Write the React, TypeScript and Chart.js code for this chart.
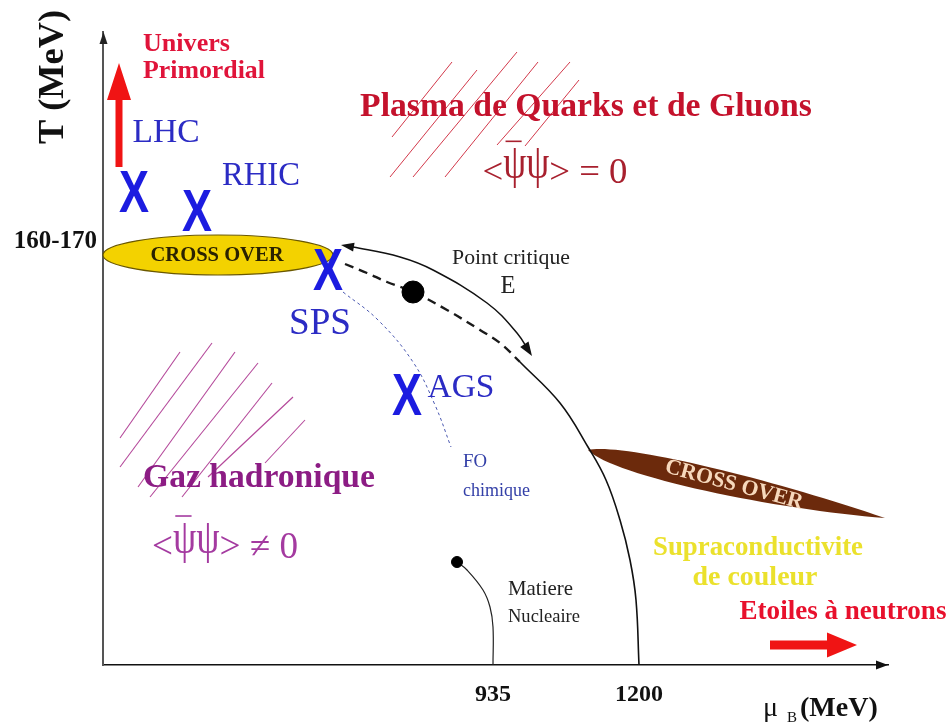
import React, { useEffect, useRef } from 'react';
import { Chart, registerables } from 'chart.js';

Chart.register(...registerables);

const SERIF = "'Liberation Serif', 'Times New Roman', 'DejaVu Serif', serif";
const SANS = "'Liberation Sans', Arial, 'DejaVu Sans', sans-serif";

// Schematic axis extents
const X_MAX = 785;
const Y_MAX = 633;

// Tick marks
const xTickValues = [390, 536];
const xTickLabels = ['935', '1200'];
const yTickValues = [423];
const yTickLabels = ['160-170'];

// Experiments
const expNames = ['LHC', 'RHIC', 'SPS', 'AGS'];
const expX = [31, 94, 225, 304];
const expY = [471, 452, 393, 268];

// Critical point E and nuclear matter point
const criticalX = [310];
const criticalY = [373];
const nuclearX = [354];
const nuclearY = [103];

// Crossover (dashed) line through the critical point
const crossX = [242, 264, 284, 310, 344, 377, 397, 417];
const crossY = [401, 392, 383, 373, 355, 335, 322, 303];

// First order transition line
const firstX = [417, 457, 485, 503, 517, 527, 533, 536];
const firstY = [303, 262, 218, 185, 145, 105, 65, 0];

// Double-headed arc
const arcX = [242, 250, 297, 330, 384, 414, 427];
const arcY = [419, 418, 408, 395, 362, 332, 312];

// Chemical freeze-out curve
const foX = [240, 275, 310, 332, 348];
const foY = [373, 345, 303, 260, 218];

// Nuclear matter line
const nmX = [354, 364, 380, 387, 390, 390];
const nmY = [103, 95, 75, 58, 38, 0];

// Hatching segments [x1, y1, x2, y2]
const qgpHatch = [
  [289, 528, 349, 603],
  [287, 488, 374, 595],
  [310, 488, 414, 613],
  [342, 488, 435, 603],
  [394, 520, 467, 603],
  [422, 519, 476, 585],
];
const hadronHatch = [
  [17, 227, 77, 313],
  [17, 198, 109, 322],
  [35, 178, 132, 313],
  [47, 168, 155, 302],
  [79, 168, 169, 282],
  [105, 188, 190, 268],
  [162, 202, 202, 245],
];

// Crossover regions
const lowCrossover = [115, 410, 115, 20]; // cx, cy, rx, ry
const highCrossover = [485, 215, 782, 147]; // left tip, right tip

// Red arrows [x1, y1, x2, y2]
const earlyUniverseArrow = [16, 498, 16, 602];
const neutronStarArrow = [667, 20, 754, 20];

type Lbl = { t: string; x: number; y: number; w: number; c: string; b?: boolean; a?: CanvasTextAlign; rot?: number };

const labels: Lbl[] = [
  { t: 'Univers', x: 40, y: 621, w: 87, c: '#e0143a', b: true, a: 'left' },
  { t: 'Primordial', x: 40, y: 594, w: 122, c: '#e0143a', b: true, a: 'left' },
  { t: expNames[0], x: 63, y: 532, w: 67, c: '#2b2bc4' },
  { t: expNames[1], x: 158, y: 489, w: 78, c: '#2b2bc4' },
  { t: expNames[2], x: 217, y: 341, w: 62, c: '#2b2bc4' },
  { t: expNames[3], x: 358, y: 277, w: 67, c: '#2b2bc4' },
  { t: 'Plasma de Quarks et de Gluons', x: 483, y: 558, w: 452, c: '#c4122c', b: true },
  { t: 'Point critique', x: 408, y: 407, w: 118, c: '#222' },
  { t: 'E', x: 405, y: 378, w: 15, c: '#222' },
  { t: 'FO', x: 360, y: 203, w: 24, c: '#3440a8', a: 'left' },
  { t: 'chimique', x: 360, y: 174, w: 67, c: '#3440a8', a: 'left' },
  { t: 'Gaz hadronique', x: 156, y: 187, w: 232, c: '#8c1c84', b: true },
  { t: 'Matiere', x: 405, y: 75, w: 65, c: '#222', a: 'left' },
  { t: 'Nucleaire', x: 405, y: 48, w: 72, c: '#222', a: 'left' },
  { t: 'Supraconductivite', x: 655, y: 117, w: 210, c: '#ebe12c', b: true },
  { t: 'de couleur', x: 652, y: 87, w: 125, c: '#ebe12c', b: true },
  { t: 'Etoiles à neutrons', x: 740, y: 53, w: 207, c: '#e8102c', b: true },
  { t: 'CROSS OVER', x: 114, y: 409, w: 133, c: '#2a2200', b: true },
  { t: 'CROSS OVER', x: 631, y: 180, w: 142, c: '#f6d8bc', b: true, rot: 15 },
];

const psiLabels = [
  { tail: ' = 0', x: 452, y: 495, w: 145, c: '#a8202e' },
  { tail: ' ≠ 0', x: 122, y: 120, w: 146, c: '#a43aa0' },
];

function fitSize(ctx: CanvasRenderingContext2D, text: string, bold: boolean, family: string, w: number) {
  ctx.font = `${bold ? 'bold ' : ''}100px ${family}`;
  const m = ctx.measureText(text).width;
  return (100 * w) / m;
}

function arrowHead(ctx: CanvasRenderingContext2D, tx: number, ty: number, fx: number, fy: number, len: number, half: number, color: string) {
  const a = Math.atan2(ty - fy, tx - fx);
  ctx.save();
  ctx.translate(tx, ty);
  ctx.rotate(a);
  ctx.beginPath();
  ctx.moveTo(0, 0);
  ctx.lineTo(-len, -half);
  ctx.lineTo(-len, half);
  ctx.closePath();
  ctx.fillStyle = color;
  ctx.fill();
  ctx.restore();
}

function fatArrow(ctx: CanvasRenderingContext2D, x1: number, y1: number, x2: number, y2: number, shaft: number, headLen: number, headHalf: number, color: string) {
  const a = Math.atan2(y2 - y1, x2 - x1);
  const L = Math.hypot(x2 - x1, y2 - y1);
  ctx.save();
  ctx.translate(x1, y1);
  ctx.rotate(a);
  ctx.fillStyle = color;
  ctx.beginPath();
  ctx.moveTo(0, -shaft / 2);
  ctx.lineTo(L - headLen, -shaft / 2);
  ctx.lineTo(L - headLen, -headHalf);
  ctx.lineTo(L, 0);
  ctx.lineTo(L - headLen, headHalf);
  ctx.lineTo(L - headLen, shaft / 2);
  ctx.lineTo(0, shaft / 2);
  ctx.closePath();
  ctx.fill();
  ctx.restore();
}

function makeXImage(color: string) {
  const c = document.createElement('canvas');
  c.width = 34;
  c.height = 48;
  const g = c.getContext('2d')!;
  g.fillStyle = color;
  g.font = `bold 60px ${SANS}`;
  g.textAlign = 'center';
  g.textBaseline = 'middle';
  const w = g.measureText('X').width;
  g.translate(17, 24);
  g.scale(30 / w, 1);
  g.fillText('X', 0, 1);
  return c;
}

const ARC_INDEX = 3;

const decorPlugin = {
  id: 'decor',
  beforeDatasetsDraw(chart: any) {
    const ctx: CanvasRenderingContext2D = chart.ctx;
    const X = (v: number) => chart.scales.x.getPixelForValue(v);
    const Y = (v: number) => chart.scales.y.getPixelForValue(v);
    // yellow crossover ellipse
    const [cx, cy, rx, ry] = lowCrossover;
    const pcx = X(cx), pcy = Y(cy);
    const prx = X(cx + rx) - pcx, pry = pcy - Y(cy + ry);
    ctx.save();
    ctx.beginPath();
    ctx.ellipse(pcx, pcy, prx, pry, 0, 0, Math.PI * 2);
    ctx.fillStyle = '#f3d200';
    ctx.fill();
    ctx.lineWidth = 1.2;
    ctx.strokeStyle = '#6a5800';
    ctx.stroke();
    // brown leaf
    const lx = X(highCrossover[0]), ly = Y(highCrossover[1]);
    const rxp = X(highCrossover[2]), ryp = Y(highCrossover[3]);
    const ang = Math.atan2(ryp - ly, rxp - lx);
    const L = Math.hypot(rxp - lx, ryp - ly);
    ctx.translate(lx, ly);
    ctx.rotate(ang);
    ctx.beginPath();
    ctx.moveTo(0, 0);
    ctx.bezierCurveTo(L * 0.1, -15, L * 0.6, -13, L, 0);
    ctx.bezierCurveTo(L * 0.65, 16, L * 0.1, 20, 0, 0);
    ctx.closePath();
    ctx.fillStyle = '#6c2a0c';
    ctx.fill();
    ctx.restore();
  },
  afterDatasetsDraw(chart: any) {
    const ctx: CanvasRenderingContext2D = chart.ctx;
    const X = (v: number) => chart.scales.x.getPixelForValue(v);
    const Y = (v: number) => chart.scales.y.getPixelForValue(v);
    const area = chart.chartArea;
    ctx.save();
    // axis arrowheads
    arrowHead(ctx, area.left + 0.5, area.top, area.left + 0.5, area.top + 10, 12, 4, '#222');
    arrowHead(ctx, area.right, area.bottom, area.right - 10, area.bottom, 12, 4.5, '#111');
    // arc arrowheads
    const meta = chart.getDatasetMeta(ARC_INDEX);
    const pts = meta.data;
    if (pts.length > 1) {
      arrowHead(ctx, pts[0].x - 4, pts[0].y - 1, pts[1].x, pts[1].y, 13, 4.5, '#111');
      const n = pts.length;
      arrowHead(ctx, pts[n - 1].x + 2, pts[n - 1].y + 3, pts[n - 2].x, pts[n - 2].y, 14, 5, '#111');
    }
    // red arrows
    fatArrow(ctx, X(earlyUniverseArrow[0]), Y(earlyUniverseArrow[1]), X(earlyUniverseArrow[2]), Y(earlyUniverseArrow[3]), 7, 37, 12, '#f01414');
    fatArrow(ctx, X(neutronStarArrow[0]), Y(neutronStarArrow[1]), X(neutronStarArrow[2]), Y(neutronStarArrow[3]), 9, 30, 12.5, '#f01414');
    // labels
    ctx.textBaseline = 'middle';
    for (const l of labels) {
      const size = fitSize(ctx, l.t, !!l.b, SERIF, l.w);
      ctx.font = `${l.b ? 'bold ' : ''}${size}px ${SERIF}`;
      ctx.fillStyle = l.c;
      ctx.textAlign = l.a || 'center';
      ctx.save();
      ctx.translate(X(l.x), Y(l.y));
      if (l.rot) ctx.rotate((l.rot * Math.PI) / 180);
      ctx.fillText(l.t, 0, 0);
      ctx.restore();
    }
    // chiral condensate labels <psi-bar psi>
    ctx.textBaseline = 'alphabetic';
    ctx.textAlign = 'left';
    for (const p of psiLabels) {
      const full = '<ψψ>' + p.tail;
      const S = fitSize(ctx, full, false, SERIF, p.w);
      ctx.font = `${S}px ${SERIF}`;
      ctx.fillStyle = p.c;
      const base = Y(p.y) + 0.34 * S;
      let x = X(p.x) - p.w / 2;
      const wl = ctx.measureText('<').width;
      const wp = ctx.measureText('ψ').width;
      ctx.fillText('<', x, base);
      x += wl;
      const barX = x;
      for (let k = 0; k < 2; k++) {
        ctx.save();
        ctx.translate(x, base - 0.12 * S);
        ctx.scale(1, 1.3);
        ctx.fillText('ψ', 0, 0);
        ctx.restore();
        x += wp;
      }
      ctx.fillText('>' + p.tail, x, base);
      ctx.strokeStyle = p.c;
      ctx.lineWidth = 1.6;
      ctx.beginPath();
      ctx.moveTo(barX + wp * 0.1, base - 1.12 * S);
      ctx.lineTo(barX + wp * 0.8, base - 1.12 * S);
      ctx.stroke();
    }
    // axis titles
    ctx.fillStyle = '#111';
    ctx.save();
    const ts = fitSize(ctx, 'T (MeV)', true, SERIF, 134);
    ctx.font = `bold ${ts}px ${SERIF}`;
    ctx.translate(X(-49), Y(588));
    ctx.rotate(-Math.PI / 2);
    ctx.textAlign = 'center';
    ctx.textBaseline = 'middle';
    ctx.fillText('T (MeV)', 0, 0);
    ctx.restore();
    ctx.textBaseline = 'alphabetic';
    ctx.textAlign = 'left';
    const bx = X(660), by = Y(-51);
    ctx.font = `28px ${SERIF}`;
    ctx.fillText('μ', bx, by);
    ctx.font = `15px ${SERIF}`;
    ctx.fillText('B', bx + 24, by + 6);
    const ms = fitSize(ctx, '(MeV)', true, SERIF, 78);
    ctx.font = `bold ${ms}px ${SERIF}`;
    ctx.fillText('(MeV)', bx + 37, by);
    ctx.restore();
  },
};

const seg = (s: number[]) => [{ x: s[0], y: s[1] }, { x: s[2], y: s[3] }];
const pairs = (xs: number[], ys: number[]) => xs.map((x, i) => ({ x, y: ys[i] }));

export default function App() {
  const ref = useRef<HTMLCanvasElement | null>(null);
  useEffect(() => {
    if (!ref.current) return;
    const xImg = makeXImage('#1c1ce0');
    const lineBase = { showLine: true, pointRadius: 0, pointHoverRadius: 0, fill: false };
    const datasets: any[] = [
      { label: 'Expériences', data: pairs(expX, expY), pointStyle: xImg, pointRadius: 20, showLine: false },
      { label: 'E', data: pairs(criticalX, criticalY), pointStyle: 'circle', pointRadius: 11, backgroundColor: '#000', borderColor: '#000', showLine: false },
      { label: 'Matière nucléaire', data: pairs(nuclearX, nuclearY), pointStyle: 'circle', pointRadius: 5.5, backgroundColor: '#000', borderColor: '#000', showLine: false },
      { ...lineBase, label: 'arc', data: pairs(arcX, arcY), borderColor: '#111', borderWidth: 1.5, tension: 0.4 },
      { ...lineBase, label: 'crossover', data: pairs(crossX, crossY), borderColor: '#1a1a1a', borderWidth: 2.4, borderDash: [9, 6], tension: 0.4 },
      { ...lineBase, label: 'premier ordre', data: pairs(firstX, firstY), borderColor: '#111', borderWidth: 1.6, tension: 0.4 },
      { ...lineBase, label: 'FO chimique', data: pairs(foX, foY), borderColor: '#4a58b0', borderWidth: 1, borderDash: [3, 3], tension: 0.4 },
      { ...lineBase, label: 'nm', data: pairs(nmX, nmY), borderColor: '#222', borderWidth: 1.2, tension: 0.4 },
      ...qgpHatch.map((s) => ({ ...lineBase, label: 'h', data: seg(s), borderColor: '#d2384a', borderWidth: 1 })),
      ...hadronHatch.map((s) => ({ ...lineBase, label: 'h', data: seg(s), borderColor: '#b4489a', borderWidth: 1.1 })),
    ];
    const chart = new Chart(ref.current, {
      type: 'scatter',
      data: { datasets },
      options: {
        responsive: false,
        animation: false,
        devicePixelRatio: 1,
        events: [],
        layout: { padding: { top: 32, right: 60, left: 0, bottom: 0 } },
        plugins: { legend: { display: false }, tooltip: { enabled: false } },
        scales: {
          x: {
            type: 'linear',
            min: 0,
            max: X_MAX,
            position: 'bottom',
            afterFit: (s: any) => { s.height = 59; },
            afterBuildTicks: (s: any) => { s.ticks = xTickValues.map((v) => ({ value: v })); },
            ticks: {
              callback: (_v: any, i: number) => xTickLabels[i],
              autoSkip: false,
              maxRotation: 0,
              padding: 15,
              color: '#111',
              font: { family: SERIF, size: 24, weight: 'bold' },
            },
            grid: { display: false, drawTicks: false },
            border: { display: true, color: '#111', width: 1.5 },
          },
          y: {
            type: 'linear',
            min: 0,
            max: Y_MAX,
            afterFit: (s: any) => { s.width = 103; },
            afterBuildTicks: (s: any) => { s.ticks = yTickValues.map((v) => ({ value: v })); },
            ticks: {
              callback: (_v: any, i: number) => yTickLabels[i],
              autoSkip: false,
              padding: 6,
              color: '#111',
              font: { family: SERIF, size: 25, weight: 'bold' },
            },
            grid: { display: false, drawTicks: false },
            border: { display: true, color: '#555', width: 2 },
          },
        },
      } as any,
      plugins: [decorPlugin as any],
    });
    return () => chart.destroy();
  }, []);
  return (
    <div style={{ position: 'absolute', left: 0, top: 0, width: 948, height: 724, background: '#fff' }}>
      <canvas ref={ref} width={948} height={724} style={{ width: 948, height: 724, display: 'block' }} />
    </div>
  );
}
